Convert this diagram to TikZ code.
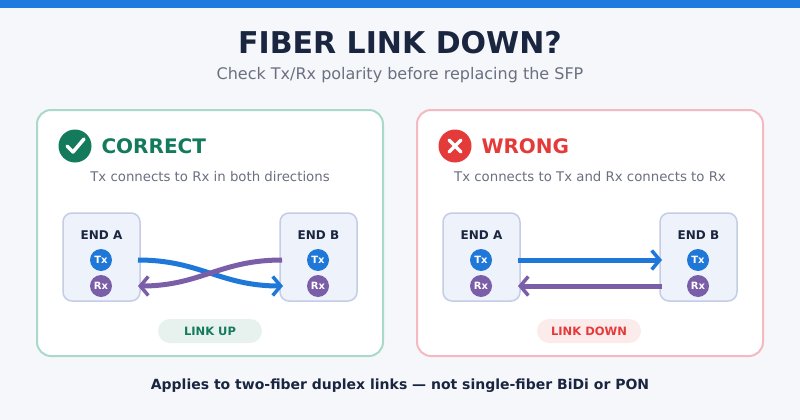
\documentclass[tikz,border=0pt]{standalone}
\usepackage{fontspec}
\setmainfont{DejaVu Sans}
\usetikzlibrary{arrows.meta}
\definecolor{bg}{HTML}{F5F7FB}
\definecolor{topbar}{HTML}{1F7BE0}
\definecolor{navy}{HTML}{1A2540}
\definecolor{sub}{HTML}{6B7080}
\definecolor{okg}{HTML}{137A5B}
\definecolor{okb}{HTML}{A9D9C9}
\definecolor{bad}{HTML}{E53A3A}
\definecolor{badb}{HTML}{F5B9C1}
\definecolor{boxf}{HTML}{EEF2FB}
\definecolor{boxb}{HTML}{C5CDE6}
\definecolor{txc}{HTML}{1F78D8}
\definecolor{rxc}{HTML}{7B5EA8}
\tikzset{
 panel/.style={draw=#1,line width=2pt,fill=white,rounded corners=14pt},
 endbox/.style={draw=boxb,line width=1.5pt,fill=boxf,rounded corners=9pt,minimum width=77pt,minimum height=88pt},
 endlbl/.style={font=\bfseries\fontsize{12}{14}\selectfont,text=navy},
 port/.style={circle,fill=#1,minimum size=22pt,inner sep=0pt,text=white,font=\bfseries\fontsize{10}{12}\selectfont},
 fib/.style={line width=5pt,draw=#1,-{Straight Barb[length=8pt,width=19pt,line width=3.5pt]}},
 pill/.style={fill=#1,rounded corners=12pt,minimum width=104pt,minimum height=24pt,font=\bfseries\fontsize{11.5}{13}\selectfont},
 captxt/.style={text=sub,font=\fontsize{13.3}{15}\selectfont},
}
\begin{document}
\begin{tikzpicture}[x=1pt,y=-1pt]
\fill[bg] (0,0) rectangle (800,420);
\useasboundingbox (0,0) rectangle (800,420);
\fill[topbar] (0,0) rectangle (800,8);
\node[text=navy,font=\bfseries\fontsize{30}{34}\selectfont] (title) at (400,43) {FIBER LINK DOWN?};
\node[text=sub,font=\fontsize{16}{18}\selectfont] (subtitle) at (400,75) {Check Tx/Rx polarity before replacing the SFP};
% left panel
\draw[panel=okb] (37,110) rectangle (383,356);
\node[circle,fill=okg,minimum size=33pt,inner sep=0pt] (chk) at (75,146) {};
\draw[white,line width=3.5pt,line cap=round,line join=round] (67,146) -- (73,152) -- (84,139);
\node[anchor=west,text=okg,font=\bfseries\fontsize{20}{24}\selectfont] (cor) at (98,146) {CORRECT};
\node[captxt] (c1) at (210,177) {Tx connects to Rx in both directions};
\node[endbox] (la) at (101.5,257) {};
\node[endlbl] at (101.5,235) {END A};
\node[port=txc] (latx) at (101,260) {Tx};
\node[port=rxc] (larx) at (101,286) {Rx};
\node[endbox] (lb) at (318.5,257) {};
\node[endlbl] at (318.5,235) {END B};
\node[port=txc] (lbtx) at (318,260) {Tx};
\node[port=rxc] (lbrx) at (318,286) {Rx};
\coordinate (l1) at (138,260); \coordinate (l2) at (283,286);
\coordinate (l3) at (282,260); \coordinate (l4) at (138,286);
\draw[fib=txc] (l1) .. controls (200,260) and (220,286) .. (l2);
\draw[fib=rxc] (l3) .. controls (220,260) and (200,286) .. (l4);
\node[pill=okg!10,text=okg] (up) at (210,331) {LINK UP};
% right panel
\draw[panel=badb] (417,110) rectangle (763,356);
\node[circle,fill=bad,minimum size=33pt,inner sep=0pt] (xx) at (455,146) {};
\draw[white,line width=3.5pt,line cap=round] (449,140) -- (461,152) (461,140) -- (449,152);
\node[anchor=west,text=bad,font=\bfseries\fontsize{20}{24}\selectfont] (wr) at (478,146) {WRONG};
\node[captxt] (c2) at (590,177) {Tx connects to Tx and Rx connects to Rx};
\node[endbox] (ra) at (481.5,257) {};
\node[endlbl] at (481.5,235) {END A};
\node[port=txc] (ratx) at (481,260) {Tx};
\node[port=rxc] (rarx) at (481,286) {Rx};
\node[endbox] (rb) at (698.5,257) {};
\node[endlbl] at (698.5,235) {END B};
\node[port=txc] (rbtx) at (698,260) {Tx};
\node[port=rxc] (rbrx) at (698,286) {Rx};
\coordinate (r1) at (518,260); \coordinate (r2) at (662,260);
\coordinate (r3) at (662,286); \coordinate (r4) at (518,286);
\draw[fib=txc] (r1) -- (r2);
\draw[fib=rxc] (r3) -- (r4);
\node[pill=bad!10,text=bad] (down) at (589,331) {LINK DOWN};
\node[text=navy,font=\bfseries\fontsize{14}{17}\selectfont] (foot) at (400,386) {Applies to two-fiber duplex links — not single-fiber BiDi or PON};
\end{tikzpicture}
\end{document}
